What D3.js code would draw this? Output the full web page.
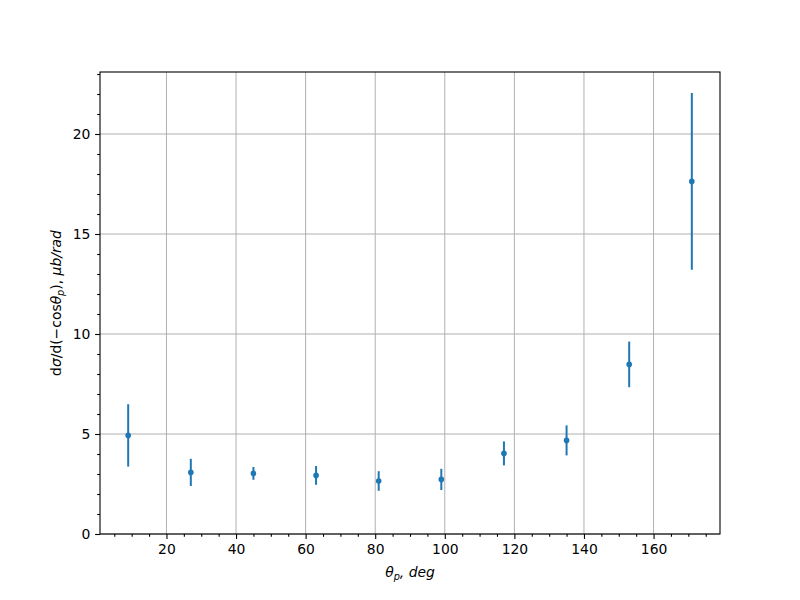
<!DOCTYPE html>
<html><head><meta charset="utf-8">
<script src="https://cdn.jsdelivr.net/npm/d3@7"></script>
<style>body{margin:0;background:#fff}svg{display:block}text{font-family:"DejaVu Sans",sans-serif}</style>
</head><body>
<script>
const angles = [9, 27, 45, 63, 81, 99, 117, 135, 153, 171];
const values = [4.93, 3.08, 3.03, 2.93, 2.65, 2.73, 4.03, 4.68, 8.48, 17.63];
const errors = [1.56, 0.68, 0.32, 0.47, 0.49, 0.53, 0.60, 0.75, 1.14, 4.42];
const xTicks = [20, 40, 60, 80, 100, 120, 140, 160];
const yTicks = [0, 5, 10, 15, 20];

const W = 800, H = 600;
const m = {l: 100, r: 80, t: 72, b: 66};
const svg = d3.select("body").append("svg").attr("width", W).attr("height", H);
const x = d3.scaleLinear().domain([0.9, 179.1]).range([m.l, W - m.r]);
const y = d3.scaleLinear().domain([0, 23.1]).range([H - m.b, m.t]);
const color = "#1f77b4";

// grid
const g = svg.append("g");
g.selectAll("line.gx").data(xTicks).join("line")
  .attr("x1", d => x(d)).attr("x2", d => x(d)).attr("y1", m.t).attr("y2", H - m.b)
  .attr("stroke", "#b0b0b0").attr("stroke-width", 1);
g.selectAll("line.gy").data(yTicks).join("line")
  .attr("y1", d => y(d)).attr("y2", d => y(d)).attr("x1", m.l).attr("x2", W - m.r)
  .attr("stroke", "#b0b0b0").attr("stroke-width", 1);

// data
const pts = svg.append("g");
pts.selectAll("line").data(angles).join("line")
  .attr("x1", d => x(d)).attr("x2", d => x(d))
  .attr("y1", (d, i) => y(values[i] + errors[i])).attr("y2", (d, i) => y(values[i] - errors[i]))
  .attr("stroke", color).attr("stroke-width", 2);
pts.selectAll("circle").data(angles).join("circle")
  .attr("cx", d => x(d)).attr("cy", (d, i) => y(values[i])).attr("r", 2.8).attr("fill", color);

// axes
const xMinor = d3.range(5, 180, 5).filter(v => v % 20 !== 0);
const yMinor = d3.range(0, 23.1, 1).filter(v => v % 5 !== 0);
const xa = svg.append("g").attr("transform", `translate(0,${H - m.b})`)
  .call(d3.axisBottom(x).tickValues(xTicks).tickSize(4.9).tickPadding(4.8).tickFormat(d3.format("d")));
const xm = svg.append("g").attr("transform", `translate(0,${H - m.b})`)
  .call(d3.axisBottom(x).tickValues(xMinor).tickSize(2.8).tickFormat(""));
const ya = svg.append("g").attr("transform", `translate(${m.l},0)`)
  .call(d3.axisLeft(y).tickValues(yTicks).tickSize(4.9).tickPadding(4.8).tickFormat(d3.format("d")));
const ym = svg.append("g").attr("transform", `translate(${m.l},0)`)
  .call(d3.axisLeft(y).tickValues(yMinor).tickSize(2.8).tickFormat(""));
[xa, xm, ya, ym].forEach(a => {
  a.select(".domain").remove();
  a.selectAll("text").attr("font-size", 13.9).attr("fill", "#000").attr("font-family", "DejaVu Sans");
  a.selectAll("line").attr("stroke", "#000").attr("stroke-width", 1.1);
});
svg.append("rect").attr("x", m.l).attr("y", m.t).attr("width", W - m.l - m.r).attr("height", H - m.t - m.b)
  .attr("fill", "none").attr("stroke", "#000").attr("stroke-width", 1.1);

// labels
const xl = svg.append("text").attr("x", (m.l + W - m.r) / 2).attr("y", 577).attr("text-anchor", "middle")
  .attr("font-size", 13.9);
xl.append("tspan").attr("font-style", "italic").text("θ");
xl.append("tspan").attr("font-style", "italic").attr("font-size", 9.7).attr("dy", 2.5).text("p");
xl.append("tspan").attr("dy", -2.5).attr("font-style", "italic").text(", deg");

const yl = svg.append("text").attr("transform", `translate(61,${(m.t + H - m.b) / 2}) rotate(-90)`)
  .attr("text-anchor", "middle").attr("font-size", 13.9);
yl.append("tspan").text("d");
yl.append("tspan").attr("font-style", "italic").text("σ");
yl.append("tspan").text("/d(−cos");
yl.append("tspan").attr("font-style", "italic").text("θ");
yl.append("tspan").attr("font-style", "italic").attr("font-size", 9.7).attr("dy", 2.5).text("p");
yl.append("tspan").attr("dy", -2.5).text("), ");
yl.append("tspan").attr("font-style", "italic").text("μb/rad");
</script>
</body></html>
